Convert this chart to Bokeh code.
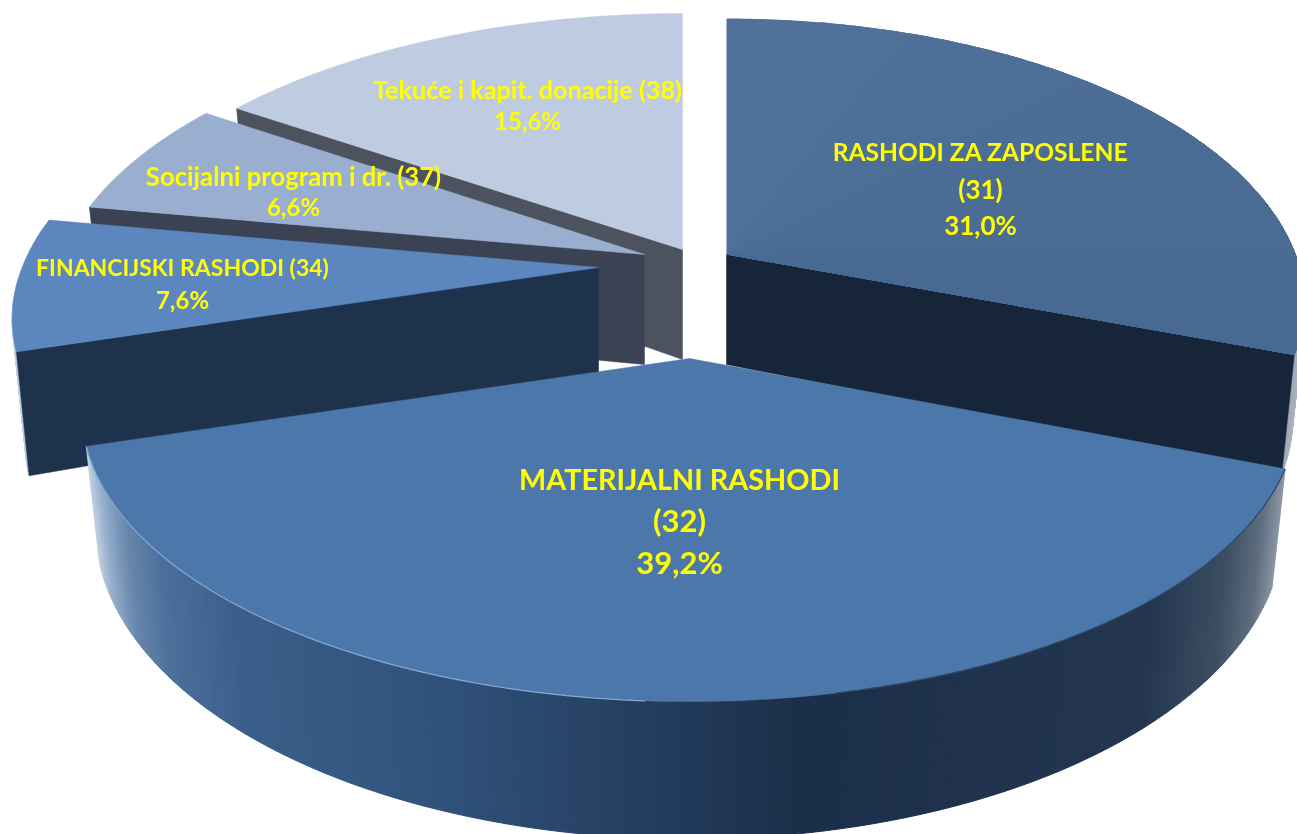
import numpy as np
from bokeh.plotting import figure
from bokeh.models import ColumnDataSource, Range1d
from bokeh.core.properties import value
from bokeh.embed import file_html
from bokeh.resources import INLINE

# data
codes = ["31", "32", "34", "37", "38"]
shares = [31.0, 39.2, 7.6, 6.6, 15.6]
share_labels = ["31,0%", "39,2%", "7,6%", "6,6%", "15,6%"]
name_lines = [["RASHODI ZA ZAPOSLENE", "(31)"], ["MATERIJALNI RASHODI", "(32)"],
              ["FINANCIJSKI RASHODI (34)"], ["Socijalni program i dr. (37)"],
              ["Tekuće i kapit. donacije (38)"]]

# styles
top_colors = ["#4b6d98", "#4c77aa", "#5b87be", "#9aaed0", "#bfcbe1"]
wall_colors = ["#162539", "#1d2f4a", "#1e324c", "#3a4254", "#4c525e"]
font_sizes = [[24.6, 26, 26], [28.8, 31, 31], [23, 24], [25.7, 24], [25.2, 24]]
apex_x = [726, 689, 598, 644, 682]
apex_y = [254, 358, 267, 254, 249]
x_scale = [0.958, 1.005, 0.97, 0.98, 0.997]
front_y_scale = [0.91, 1.0, 0.96, 1.0, 1.0]
depth_scale = [1.0, 1.0, 1.06, 1.0, 1.0]
label_x = [980, 679, 182, 293, 527]
label_y = [[151, 188, 224], [478, 519, 561], [266, 299], [175, 206], [88, 120]]
draw_order = [4, 3, 2, 0, 1]

# projection of the tilted disc
RX, RY, PERSP = 594.0, 279.6, 0.185
DEPTH, SHRINK = 110.0, 0.978

def project(i, theta):
    X, Y = np.sin(theta), np.cos(theta)
    k = 1 + PERSP * Y
    x = apex_x[i] + RX * x_scale[i] * X / k
    y = apex_y[i] - RY * Y / k * np.where(Y < 0, front_y_scale[i], 1.0)
    xb = apex_x[i] + (x - apex_x[i]) * SHRINK
    yb = y + depth_scale[i] * DEPTH / (1 + 0.2 * Y)
    return x, y, xb, yb

edges = 2 * np.pi * np.concatenate([[0], np.cumsum(shares)]) / sum(shares)

p = figure(width=1297, height=834, x_range=Range1d(0, 1297), y_range=Range1d(834, 0),
           toolbar_location=None, output_backend="svg", min_border=0,
           styles={"position": "fixed", "left": "0", "top": "0"})
p.axis.visible = False
p.grid.visible = False
p.outline_line_color = None

stops_x = [87, 100, 125, 160, 230, 460, 800, 1150, 1225, 1262, 1284, 1300]
stops_c = [(190, 205, 224), (150, 174, 204), (102, 134, 172), (76, 112, 155), (60, 96, 140),
           (47, 80, 120), (28, 47, 74), (36, 54, 80), (60, 78, 98), (95, 110, 128), (140, 150, 165), (170, 178, 190)]

def rim_color(x):
    c = [int(np.interp(x, stops_x, [s[j] for s in stops_c])) for j in range(3)]
    return "#%02x%02x%02x" % tuple(c)

def blend(a, b, t):
    return "#%02x%02x%02x" % tuple(int(u + (v - u) * t) for u, v in zip(a, b))

for i in draw_order:
    th = np.linspace(edges[i], edges[i + 1], 160)
    x, y, xb, yb = project(i, th)
    # cut wall: slice 31 shows its clockwise-end edge, the others their start edge
    e = -1 if i == 0 else 0
    wx = [apex_x[i], x[e], xb[e], apex_x[i]]
    wy = [apex_y[i], y[e], yb[e], apex_y[i] + DEPTH]
    # outer rim strips, only on the front half
    if i in (0, 1, 2):
        xs, ys, cs = [], [], []
        for j in range(len(th) - 1):
            if np.cos(th[j]) < 0.15:
                xs.append([x[j], x[j + 1], xb[j + 1], xb[j]])
                ys.append([y[j], y[j + 1], yb[j + 1], yb[j]])
                cs.append(rim_color((x[j] + x[j + 1]) / 2))
        p.patches(xs, ys, fill_color=cs, line_color=cs, line_width=1)
    if i != 1:
        p.patch(wx, wy, fill_color=wall_colors[i], line_color=wall_colors[i], line_width=0.5)
    if i == 0:
        # the largest back slice fades slightly from its top edge to its right edge;
        # each step overpaints the rest of the slice, so no seams show
        xs, ys, cs = [], [], []
        for j in range(0, len(th) - 1, 16):
            xs.append([apex_x[i], *x[j:]])
            ys.append([apex_y[i], *y[j:]])
            cs.append(blend((80, 113, 154), (71, 105, 146), j / (len(th) - 1)))
        p.patches(xs, ys, fill_color=cs, line_color=None)
    else:
        p.patch(np.r_[apex_x[i], x], np.r_[apex_y[i], y], fill_color=top_colors[i],
                line_color=top_colors[i], line_width=0.5)
    if i == 1:
        m = np.sin(th) < -0.05
        p.line(x[m], y[m], line_color="#86a9d2", line_width=1.2)
        m = np.sin(th) > 0.2
        p.line(x[m], y[m], line_color="#2c4666", line_width=1.2)

rows = {"x": [], "y": [], "t": [], "s": []}
for i in range(len(codes)):
    lines = name_lines[i] + [share_labels[i]]
    for t, yy, fs in zip(lines, label_y[i], font_sizes[i]):
        rows["x"].append(label_x[i])
        rows["y"].append(yy)
        rows["t"].append(t)
        rows["s"].append(f"{fs}px")
p.text("x", "y", text="t", source=ColumnDataSource(rows), text_color="#ffff00",
       text_font=value("Lato"), text_font_style="bold", text_font_size="s",
       text_align="center", text_baseline="middle")

open("out.html", "w").write(file_html(p, INLINE))
